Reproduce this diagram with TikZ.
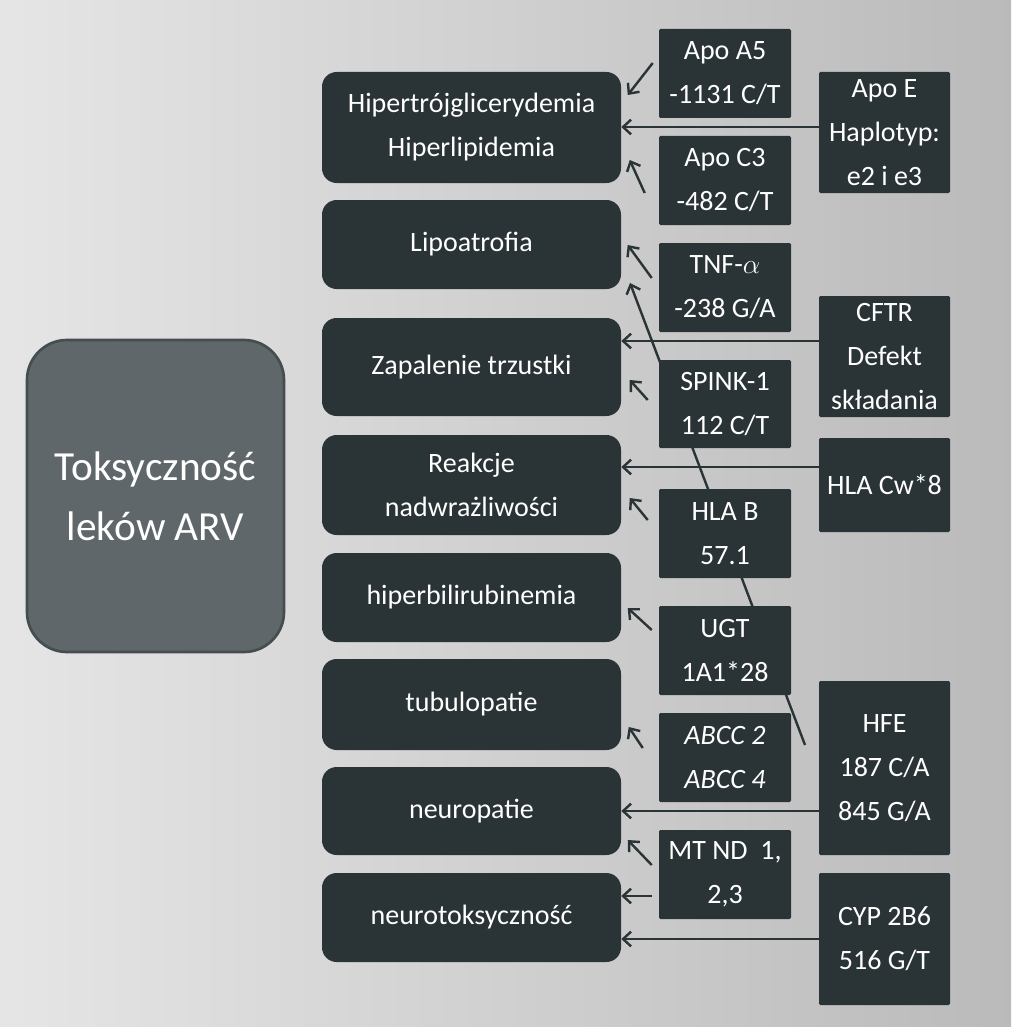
\documentclass[tikz,border=0pt]{standalone}
\usepackage{fontspec}
\setmainfont{Carlito}
\usetikzlibrary{arrows.meta}
\definecolor{dk}{HTML}{2A3336}
\definecolor{bigf}{HTML}{60676A}
\definecolor{bigd}{HTML}{464D50}
\tikzset{
 eff/.style={fill=dk,rounded corners=11pt,text=white,align=center,font=\fontsize{21}{33}\selectfont},
 mid/.style={fill=dk,rounded corners=1pt,text=white,align=center,font=\fontsize{21}{33}\selectfont},
 arr/.style={draw=dk,line width=1.8pt,-{Straight Barb[length=6pt,width=11pt]}}
}
\begin{document}
\begin{tikzpicture}[x=0.75pt,y=-0.75pt]
\shade[left color=black!10,right color=black!27] (0,0) rectangle (1011,1027);
\useasboundingbox (0,0) rectangle (1011,1027);
% long line behind
\coordinate (hs) at (805,745);
\coordinate (he) at (630,283);
\draw[arr] (hs) -- (he);
\node[fill=bigf,draw=bigd,line width=2pt,rounded corners=30pt,minimum width=257*0.75pt,minimum height=312*0.75pt,text=white,align=center,font=\fontsize{31}{45}\selectfont] (big) at (155.5,496) {Toksyczność\\leków ARV};
% effect boxes
\def\eb#1#2#3#4{\node[eff,minimum width=299*0.75pt,minimum height={(#3-#2)*0.75pt}] (#1) at (471.5,{(#2+#3)/2}) {#4};}
\eb{e1}{72}{183}{Hipertrójglicerydemia\\Hiperlipidemia}
\eb{e2}{200}{289}{Lipoatrofia}
\eb{e3}{318}{416}{Zapalenie trzustki}
\eb{e4}{435}{535}{Reakcje\\nadwrażliwości}
\eb{e5}{553}{642}{hiperbilirubinemia}
\eb{e6}{659}{750}{tubulopatie}
\eb{e7}{767}{855}{neuropatie}
\eb{e8}{873}{962}{neurotoksyczność}
\def\mb#1#2#3#4{\node[mid,minimum width=132*0.75pt,minimum height={(#3-#2)*0.75pt}] (#1) at (725,{(#2+#3)/2}) {#4};}
\mb{m1}{29}{118}{Apo A5\\-1131 C/T}
\mb{m2}{136}{225}{Apo C3\\-482 C/T}
\mb{m3}{243}{332}{TNF-$\alpha$\\-238 G/A}
\mb{m4}{360}{448}{SPINK-1\\112 C/T}
\mb{m5}{489}{578}{HLA B\\57.1}
\mb{m6}{606}{695}{UGT\\1A1*28}
\mb{m7}{713}{802}{\textit{ABCC 2}\\\textit{ABCC 4}}
\mb{m8}{830}{919}{MT ND\ \ 1,\\2,3}
\def\rb#1#2#3#4{\node[mid,minimum width=131*0.75pt,minimum height={(#3-#2)*0.75pt}] (#1) at (884.5,{(#2+#3)/2}) {#4};}
\rb{r1}{72}{193}{Apo E\\Haplotyp:\\e2 i e3}
\rb{r2}{296}{417}{CFTR\\Defekt\\składania}
\rb{r3}{438}{532}{HLA Cw*8}
\rb{r4}{681}{855}{HFE\\187 C/A\\845 G/A}
\rb{r5}{873}{1005}{CYP 2B6\\516 G/T}
% arrows
\draw[arr] (m1.west)++(-6,-10.5) -- ++(-25,32);
\draw[arr] (r1.west |- 0,127) -- (e1.east |- 0,127);
\draw[arr] (m2.west)++(-14,12.5) -- ++(-15,-33);
\draw[arr] (m3.west)++(-7,-9.5) -- ++(-24,-33);
\draw[arr] (r2.west |- 0,341) -- (e3.east |- 0,341);
\draw[arr] (m4.west)++(-11,-4) -- ++(-18,-20);
\draw[arr] (r3.west |- 0,467) -- (e4.east |- 0,467);
\draw[arr] (m5.west)++(-11,-13.5) -- ++(-18,-22);
\draw[arr] (m6.west)++(-7,-20.5) -- ++(-24,-22);
\draw[arr] (m7.west)++(-16,-9.5) -- ++(-14,-21);
\draw[arr] (r4.west |- 0,811) -- (e7.east |- 0,811);
\draw[arr] (m8.west)++(-7,-9.5) -- ++(-24,-25);
\draw[arr] (m8.west)++(-7,21.5) -- (e8.east |- 0,896);
\draw[arr] (r5.west |- 0,939) -- (e8.east |- 0,939);
\end{tikzpicture}
\end{document}
